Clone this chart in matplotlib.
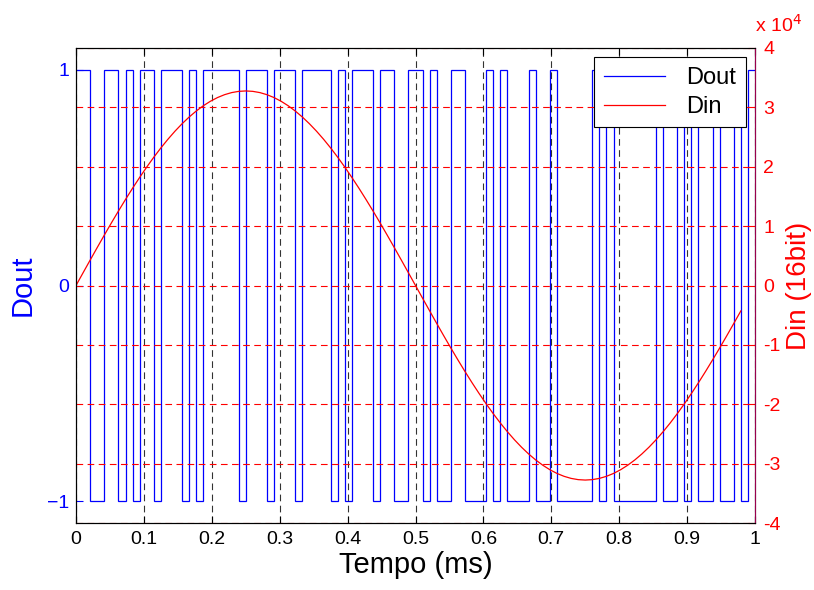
import numpy as np
import matplotlib.pyplot as plt
from matplotlib.lines import Line2D
from matplotlib.ticker import FuncFormatter

plt.rcParams['font.family'] = ['Liberation Sans', 'DejaVu Sans']

fs = 96.0  # kHz -> samples per ms

# 1-bit modulator output, one value per sample
dout = [1, 1, -1, -1, 1, 1, -1, 1, -1, 1, 1, -1, 1, 1, 1, -1,
        1, -1, 1, 1, 1, 1, 1, -1, 1, 1, 1, -1, 1, 1, 1, -1,
        1, 1, 1, 1, -1, 1, -1, 1, 1, 1, -1, 1, 1, -1, -1, 1,
        1, -1, 1, -1, -1, 1, 1, -1, -1, -1, 1, -1, 1, -1, -1, -1,
        1, -1, -1, 1, -1, -1, -1, -1, -1, 1, -1, 1, -1, -1, -1, -1,
        -1, -1, 1, -1, -1, 1, -1, 1, -1, -1, 1, -1, -1, 1, -1, 1]

# 16-bit input samples
din = [0, 2143, 4277, 6392, 8481, 10533, 12539, 14492, 16384, 18204,
       19947, 21605, 23170, 24636, 25996, 27245, 28377, 29388, 30273, 31028,
       31651, 32137, 32487, 32697, 32767, 32697, 32487, 32137, 31651, 31028,
       30273, 29388, 28377, 27245, 25996, 24636, 23170, 21605, 19947, 18204,
       16384, 14492, 12539, 10533, 8481, 6392, 4277, 2143, 0, -2143,
       -4277, -6392, -8481, -10533, -12539, -14492, -16384, -18204, -19947, -21605,
       -23170, -24636, -25996, -27245, -28377, -29388, -30273, -31028, -31651, -32137,
       -32487, -32697, -32767, -32697, -32487, -32137, -31651, -31028, -30273, -29388,
       -28377, -27245, -25996, -24636, -23170, -21605, -19947, -18204, -16384, -14492,
       -12539, -10533, -8481, -6392, -4277]

xticks = [0, 0.1, 0.2, 0.3, 0.4, 0.5, 0.6, 0.7, 0.8, 0.9, 1]
xticklabels = ['0', '0.1', '0.2', '0.3', '0.4', '0.5', '0.6', '0.7', '0.8', '0.9', '1']
left_ticks = [-1, 0, 1]
right_ticks = [-4e4, -3e4, -2e4, -1e4, 0, 1e4, 2e4, 3e4, 4e4]

edges = np.arange(len(dout) + 1) / fs
t_din = np.arange(len(din)) / fs

fig = plt.figure(figsize=(8.14, 5.90), dpi=100)
ax = fig.add_axes([76 / 814, 1 - 523 / 590, 679 / 814, 475 / 590])
ax2 = ax.twinx()

dash = (0, (6, 4))
ax.stairs(dout, edges, color='blue', lw=0.9, baseline=None)
ax.set_xlim(0, 1)
ax.set_ylim(-1.1, 1.1)
ax.set_xticks(xticks)
ax.set_xticklabels(xticklabels)
ax.set_yticks(left_ticks)
ax.xaxis.grid(True, color='k', ls=dash, lw=0.8, alpha=0.8)
ax.tick_params(axis='x', direction='in', labelsize=14, top=True, length=5, pad=6)
ax.tick_params(axis='y', direction='in', labelsize=14, colors='blue', length=5, pad=5)
ax.set_xlabel('Tempo (ms)', fontsize=21, labelpad=2)
ax.set_ylabel('Dout', fontsize=21, color='blue', labelpad=7)

ax2.plot(t_din, din, color='red', lw=0.9)
ax2.set_ylim(-4e4, 4e4)
ax2.set_yticks(right_ticks)
ax2.yaxis.set_major_formatter(FuncFormatter(lambda v, p: f'{v / 1e4:g}'))
ax2.yaxis.grid(True, color='red', ls=dash, lw=0.8)
ax2.tick_params(axis='y', direction='in', labelsize=14, colors='red', length=5, pad=6)
ax2.set_ylabel('Din (16bit)', fontsize=20, color='red', labelpad=4)
ax2.spines['right'].set_color('#99004d')
ax2.text(1.0, 1.025, r'x 10$^{4}$', transform=ax2.transAxes, color='red',
         fontsize=14, ha='left', va='bottom')

handles = [Line2D([], [], color='blue', lw=0.9), Line2D([], [], color='red', lw=0.9)]
leg = ax2.legend(handles, ['Dout', 'Din'], loc='upper right', fontsize=17,
                 fancybox=False, framealpha=1, edgecolor='k', handlelength=2.6,
                 borderaxespad=0.4, labelspacing=0.3, borderpad=0.4, handletextpad=0.9)
leg.get_frame().set_linewidth(0.8)

fig.savefig('out.png', dpi=100)
